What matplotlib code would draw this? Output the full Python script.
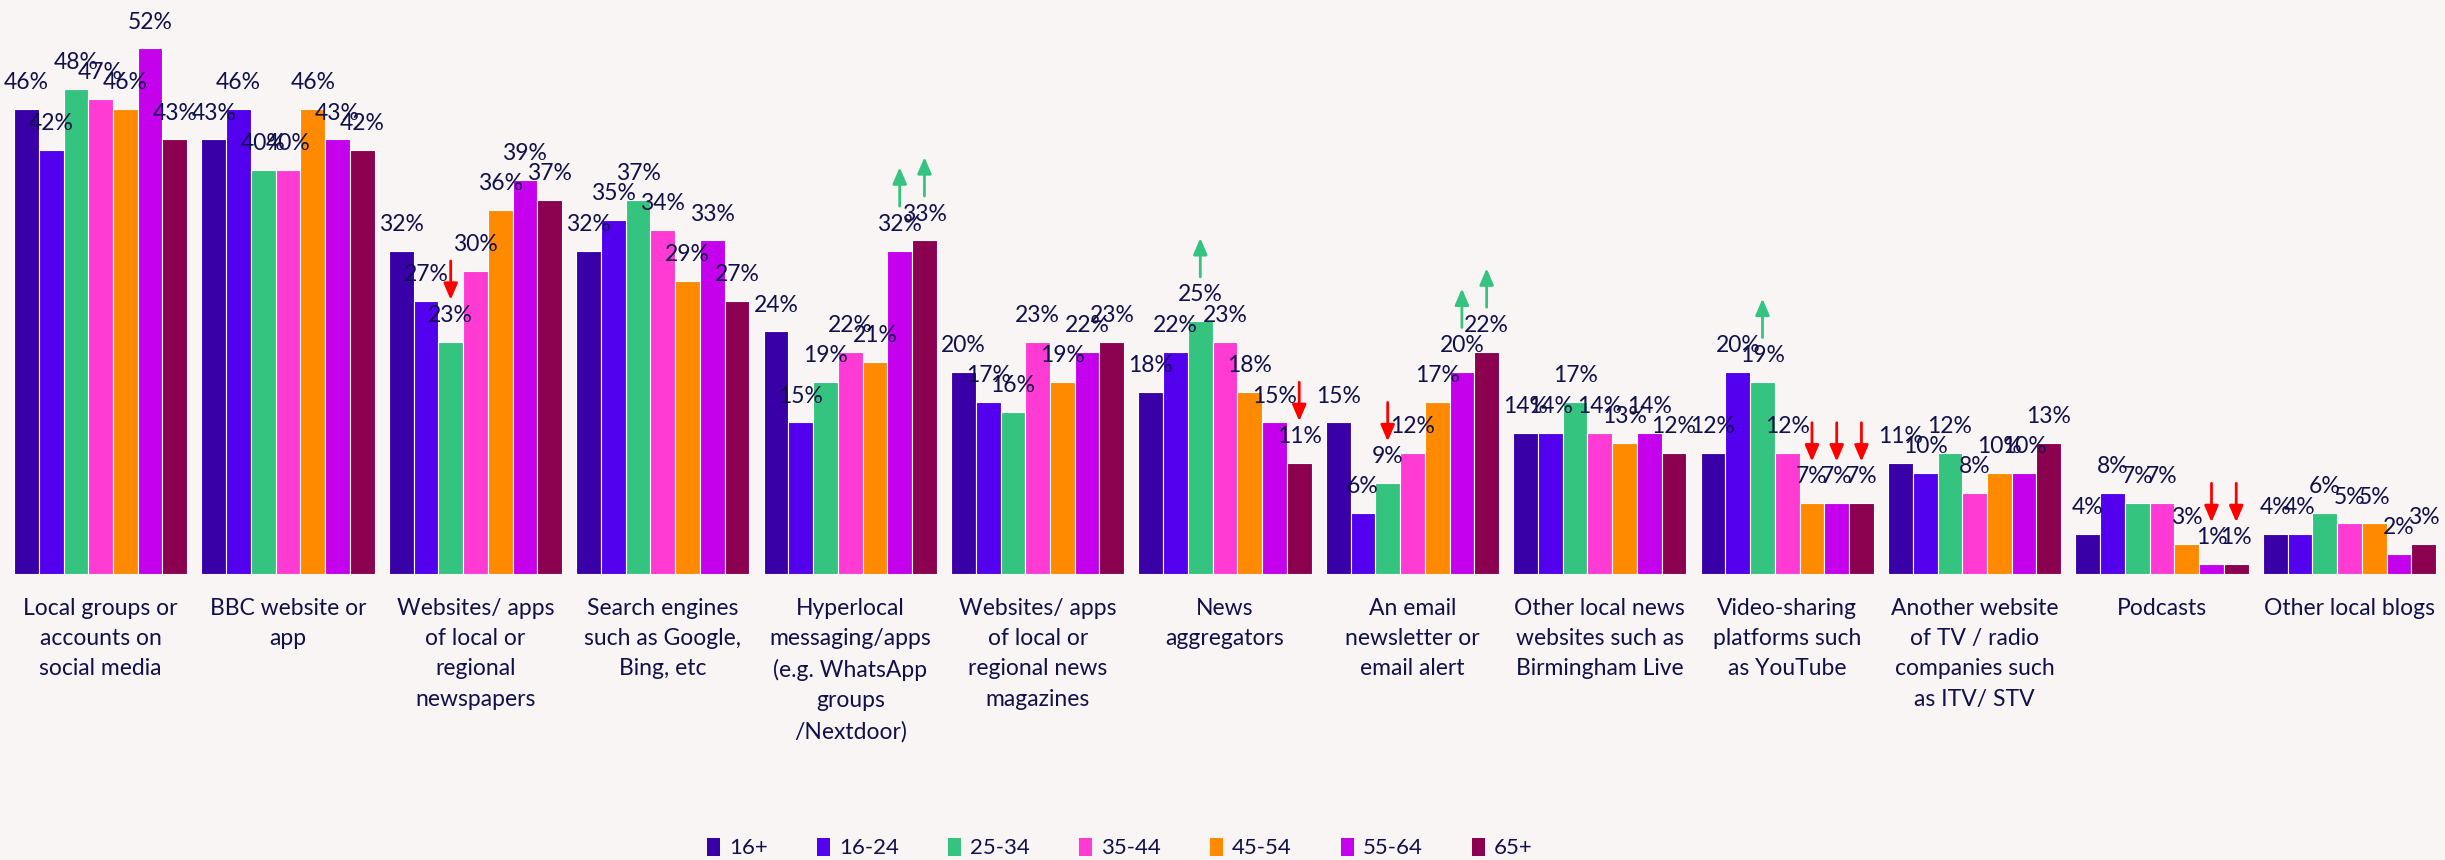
import matplotlib.pyplot as plt
from matplotlib.patches import Patch
from matplotlib.transforms import offset_copy

categories = [
    "Local groups or\naccounts on\nsocial media",
    "BBC website or\napp",
    "Websites/ apps\nof local or\nregional\nnewspapers",
    "Search engines\nsuch as Google,\nBing, etc",
    "Hyperlocal\nmessaging/apps\n(e.g. WhatsApp\ngroups\n/Nextdoor)",
    "Websites/ apps\nof local or\nregional news\nmagazines",
    "News\naggregators",
    "An email\nnewsletter or\nemail alert",
    "Other local news\nwebsites such as\nBirmingham Live",
    "Video-sharing\nplatforms such\nas YouTube",
    "Another website\nof TV / radio\ncompanies such\nas ITV/ STV",
    "Podcasts",
    "Other local blogs",
]

age_groups = ["16+", "16-24", "25-34", "35-44", "45-54", "55-64", "65+"]

v_16plus = [46, 43, 32, 32, 24, 20, 18, 15, 14, 12, 11, 4, 4]
v_16_24 = [42, 46, 27, 35, 15, 17, 22, 6, 14, 20, 10, 8, 4]
v_25_34 = [48, 40, 23, 37, 19, 16, 25, 9, 17, 19, 12, 7, 6]
v_35_44 = [47, 40, 30, 34, 22, 23, 23, 12, 14, 12, 8, 7, 5]
v_45_54 = [46, 46, 36, 29, 21, 19, 18, 17, 13, 7, 10, 3, 5]
v_55_64 = [52, 43, 39, 33, 32, 22, 15, 20, 14, 7, 10, 1, 2]
v_65plus = [43, 42, 37, 27, 33, 23, 11, 22, 12, 7, 13, 1, 3]
series = [v_16plus, v_16_24, v_25_34, v_35_44, v_45_54, v_55_64, v_65plus]

# (category index, age group index) with significance arrows
arrows_up = [(4, 5), (4, 6), (6, 2), (7, 5), (7, 6), (9, 2)]
arrows_down = [(2, 2), (6, 6), (7, 2), (9, 4), (9, 5), (9, 6), (11, 5), (11, 6)]

colors = ["#3A00A8", "#5200EE", "#35C47F", "#FF3BD4", "#FF8A00", "#C400EC", "#8B004F"]
bg = "#F9F5F4"
txt = "#10104A"
up_col = "#35C47F"
down_col = "#FF0000"

plt.rcParams['font.family'] = ['Lato', 'DejaVu Sans']

fig = plt.figure(figsize=(24.45, 8.6), dpi=100, facecolor=bg)
ax = fig.add_axes([0, 1 - 574 / 860, 1, 566 / 860])
ax.set_facecolor(bg)

bw = 0.132
xs = list(range(len(categories)))
for j, vals in enumerate(series):
    pos = [x + (j - 3) * bw for x in xs]
    ax.bar(pos, vals, width=bw, color=colors[j], edgecolor="white",
           linewidth=0.8, label=age_groups[j])
    for p, v in zip(pos, vals):
        ax.annotate(f"{v}%", (p, v), xytext=(0, 19), textcoords="offset points",
                    ha="center", va="center", fontsize=16.5, color=txt,
                    annotation_clip=False)


def draw_arrow(ci, si, start_pt, end_pt, col):
    x = ci + (si - 3) * bw
    v = series[si][ci]
    t0 = offset_copy(ax.transData, fig=fig, x=0, y=start_pt, units="points")
    t1 = offset_copy(ax.transData, fig=fig, x=0, y=end_pt, units="points")
    ax.annotate("", xy=(x, v), xycoords=t1, xytext=(x, v), textcoords=t0,
                arrowprops=dict(arrowstyle="-|>,head_width=0.3,head_length=0.7",
                                color=col, lw=2, mutation_scale=14,
                                shrinkA=0, shrinkB=0),
                annotation_clip=False)


for ci, si in arrows_up:
    draw_arrow(ci, si, 32, 60, up_col)
for ci, si in arrows_down:
    draw_arrow(ci, si, 58, 30, down_col)

ax.set_xlim(-0.537, 12.51)
ax.set_ylim(0, 56)
ax.set_xticks(xs)
ax.set_xticklabels(categories, fontsize=16.5, color=txt, linespacing=1.55)
ax.tick_params(axis="x", length=0, pad=17)
ax.set_yticks([])
for s in ax.spines.values():
    s.set_visible(False)

handles = [Patch(facecolor=c, edgecolor="none") for c in colors]
fig.legend(handles, age_groups, loc="center", bbox_to_anchor=(0.458, 1 - 848 / 860),
           ncol=7, frameon=False, fontsize=16, labelcolor=txt,
           handlelength=0.6, handleheight=0.9, handletextpad=0.4,
           columnspacing=2.2)

fig.savefig("out.png", dpi=100, facecolor=bg)
